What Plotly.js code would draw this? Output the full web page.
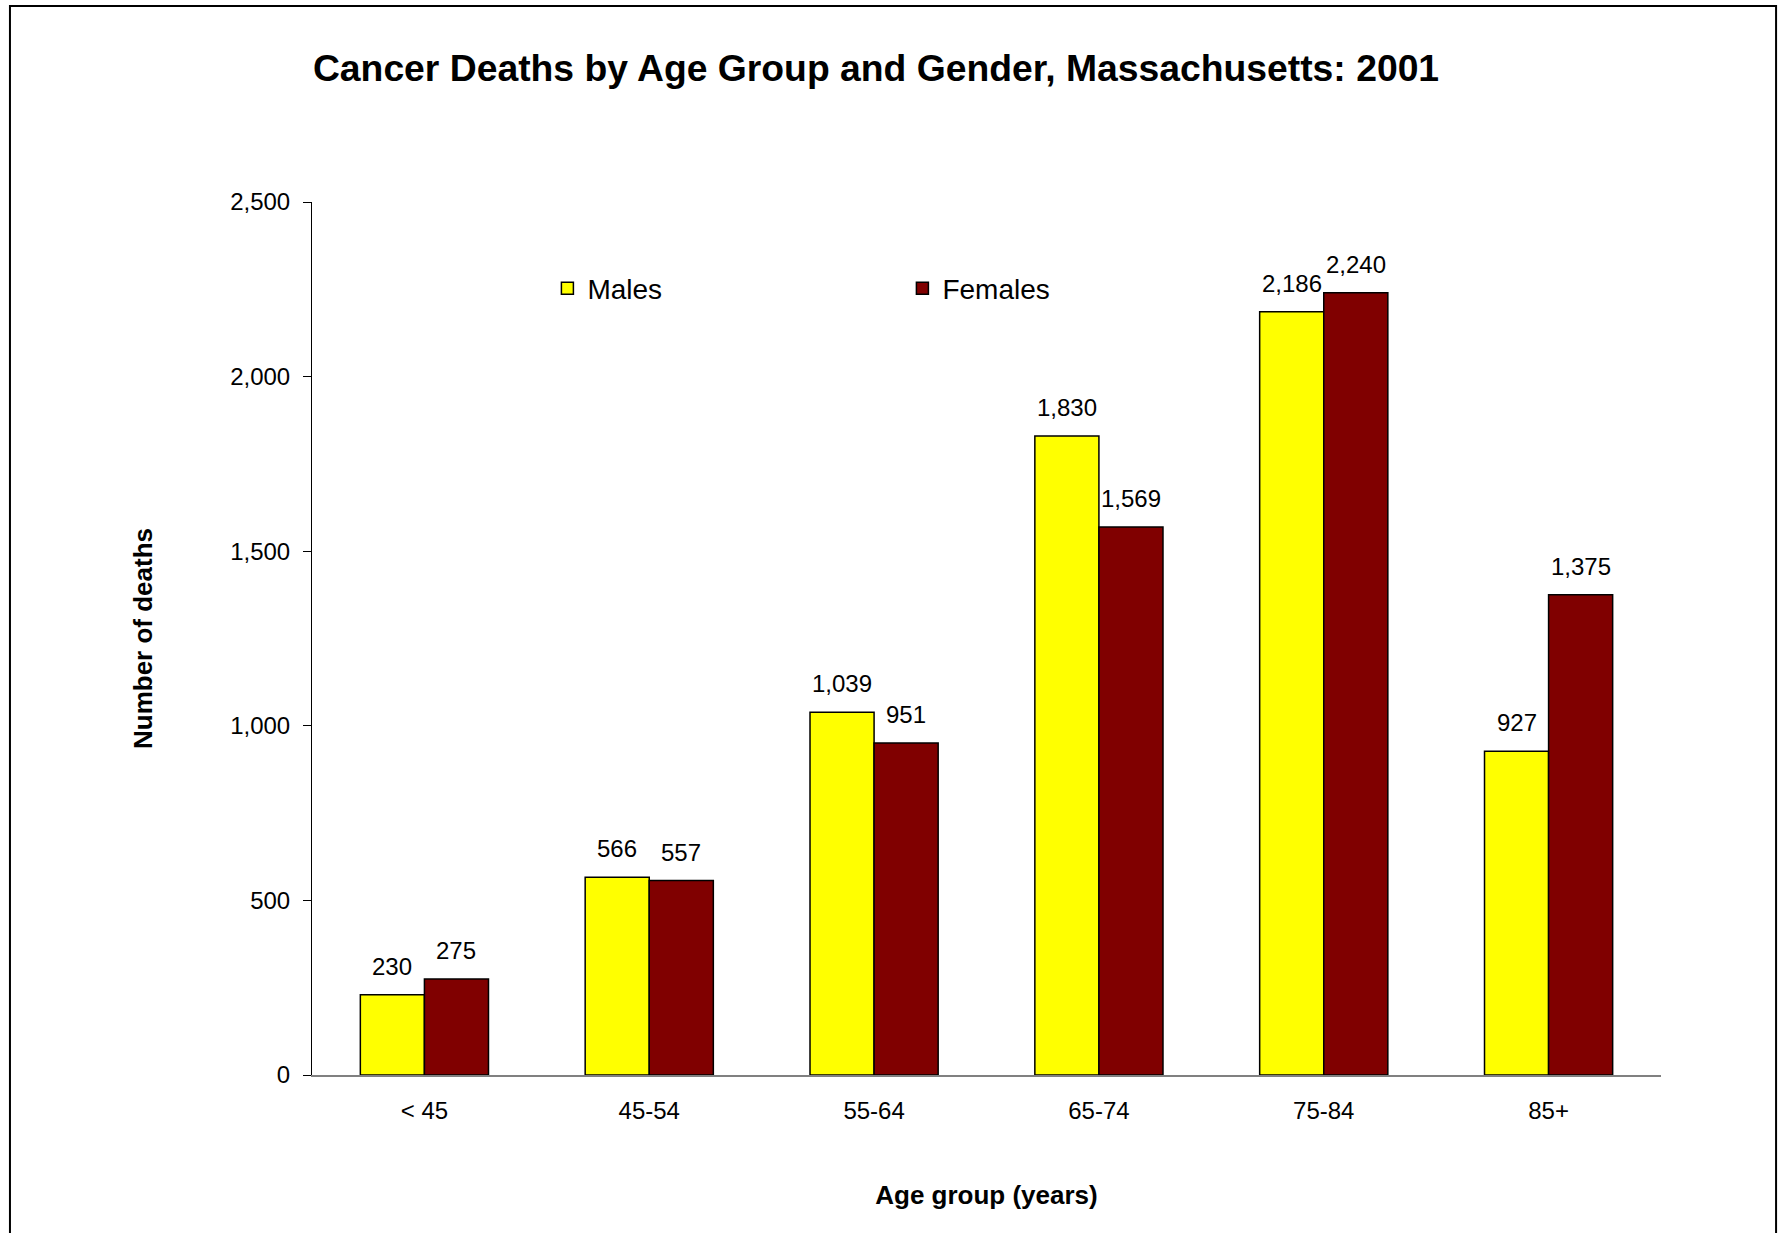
<!DOCTYPE html>
<html>
<head>
<meta charset="utf-8">
<script src="https://cdn.plot.ly/plotly-3.0.1.min.js"></script>
<style>
  html, body { margin: 0; padding: 0; background: #fff; }
  #chart { width: 1782px; height: 1233px; }
</style>
</head>
<body>
<div id="chart"></div>
<script>
// Cancer deaths, Massachusetts 2001
const ageGroups = ['< 45', '45-54', '55-64', '65-74', '75-84', '85+'];
const males = [230, 566, 1039, 1830, 2186, 927];
const females = [275, 557, 951, 1569, 2240, 1375];

const FONT = 'Liberation Sans, Arial, sans-serif';
const W = 1782, H = 1233;
const MARGIN = { l: 312, r: 121, t: 202, b: 158 };
const BARGAP = 0.43;

function fmt(v) {
  return v.toLocaleString('en-US');
}

// half a group = one bar width, used to put value labels over each bar
const catPx = (W - MARGIN.l - MARGIN.r) / ageGroups.length;
const barPx = catPx * (1 - BARGAP) / 2;

const traceMales = {
  x: ageGroups,
  y: males,
  name: 'Males',
  type: 'bar',
  marker: { color: '#FFFF00', line: { color: '#000000', width: 1.5 } },
  hoverinfo: 'x+y'
};

const traceFemales = {
  x: ageGroups,
  y: females,
  name: 'Females',
  type: 'bar',
  marker: { color: '#800000', line: { color: '#000000', width: 1.5 } },
  hoverinfo: 'x+y'
};

function valueLabels(values, side) {
  return values.map((v, i) => ({
    x: ageGroups[i],
    y: v,
    xref: 'x',
    yref: 'y',
    text: fmt(v),
    showarrow: false,
    yanchor: 'bottom',
    xanchor: 'center',
    xshift: side * barPx / 2,
    yshift: 13,
    font: { family: FONT, size: 24, color: '#000' }
  }));
}

const layout = {
  width: W,
  height: H,
  font: { family: FONT, size: 24, color: '#000' },
  paper_bgcolor: '#fff',
  plot_bgcolor: '#fff',
  margin: MARGIN,
  barmode: 'group',
  bargap: BARGAP,
  bargroupgap: 0,
  title: {
    text: '<b>Cancer Deaths by Age Group and Gender, Massachusetts: 2001</b>',
    font: { family: FONT, size: 37.3, color: '#000' },
    x: 0.4916,
    xanchor: 'center',
    y: 0.945,
    yanchor: 'middle'
  },
  xaxis: {
    type: 'category',
    showline: true,
    linecolor: '#808080',
    linewidth: 1.5,
    ticks: '',
    ticklabelstandoff: 13,
    showgrid: false,
    zeroline: false,
    tickfont: { size: 24 },
    title: {
      text: '<b>Age group (years)</b>',
      font: { size: 26 },
      standoff: 63
    }
  },
  yaxis: {
    range: [0, 2500],
    tickvals: [0, 500, 1000, 1500, 2000, 2500],
    ticktext: ['0', '500', '1,000', '1,500', '2,000', '2,500'],
    showline: true,
    linecolor: '#000',
    linewidth: 1,
    ticks: 'outside',
    ticklen: 8,
    tickcolor: '#000',
    tickwidth: 1,
    ticklabelstandoff: 8,
    showgrid: false,
    zeroline: false,
    tickfont: { size: 24 },
    title: {
      text: '<b>Number of deaths</b>',
      font: { size: 26 },
      standoff: 70
    }
  },
  showlegend: true,
  legend: {
    orientation: 'h',
    x: 0.1745,
    xanchor: 'left',
    y: 0.901,
    yanchor: 'middle',
    font: { size: 28 },
    entrywidth: 310,
    bgcolor: 'rgba(0,0,0,0)'
  },
  annotations: valueLabels(males, -1).concat(valueLabels(females, 1)),
  shapes: [{
    type: 'rect',
    xref: 'paper',
    yref: 'paper',
    x0: -0.2239,
    x1: 1.0853,
    y0: -0.3,
    y1: 1.2245,
    line: { color: '#000', width: 2 }
  }]
};

const config = {
  responsive: false,
  displayModeBar: false
};

Plotly.newPlot('chart', [traceMales, traceFemales], layout, config);
</script>
</body>
</html>
